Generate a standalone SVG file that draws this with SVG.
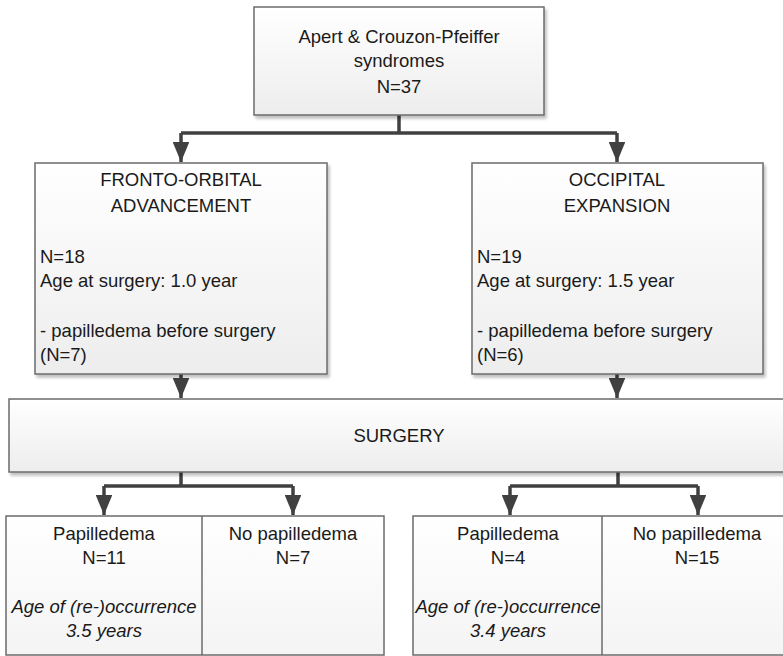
<svg xmlns="http://www.w3.org/2000/svg" width="783" height="656" viewBox="0 0 783 656">
<defs>
<linearGradient id="g" x1="0" y1="0" x2="0" y2="1">
<stop offset="0" stop-color="#ffffff"/>
<stop offset="1" stop-color="#ededed"/>
</linearGradient>
<linearGradient id="g2" x1="0" y1="0" x2="0" y2="1">
<stop offset="0" stop-color="#ffffff"/>
<stop offset="1" stop-color="#f4f4f4"/>
</linearGradient>
<filter id="sh" x="-5%" y="-5%" width="115%" height="120%">
<feGaussianBlur in="SourceAlpha" stdDeviation="1.5"/>
<feOffset dx="2" dy="3" result="b"/>
<feComponentTransfer><feFuncA type="linear" slope="0.25"/></feComponentTransfer>
<feMerge><feMergeNode/><feMergeNode in="SourceGraphic"/></feMerge>
</filter>
<marker id="ah" viewBox="0 0 12 10" refX="12" refY="5" markerWidth="5.8" markerHeight="4.8" markerUnits="strokeWidth" orient="auto">
<path d="M0,0 L12,5 L0,10 z" fill="#404040"/>
</marker>
</defs>
<style>
.box{fill:url(#g);stroke:#6b6b6b;stroke-width:1.5;filter:url(#sh)}
.low{fill:url(#g2);stroke:#6b6b6b;stroke-width:1.5}
.div{stroke:#6b6b6b;stroke-width:1.5}
text{font-family:"Liberation Sans",Arial,sans-serif;font-size:18.5px;fill:#1a1a1a}
.c{text-anchor:middle}
.i{font-style:italic}
.con{fill:none;stroke:#404040;stroke-width:3.5}
</style>
<rect width="783" height="656" fill="#ffffff"/>
<g id="connectors">
<path class="con" d="M399,115 V133 M181,133 H617"/>
<path class="con" d="M181,133 V162" marker-end="url(#ah)"/>
<path class="con" d="M617,133 V162" marker-end="url(#ah)"/>
<path class="con" d="M181,374 V398" marker-end="url(#ah)"/>
<path class="con" d="M617,374 V398" marker-end="url(#ah)"/>
<path class="con" d="M181,472 V486 M104,486 H293"/>
<path class="con" d="M104,486 V515" marker-end="url(#ah)"/>
<path class="con" d="M293,486 V515" marker-end="url(#ah)"/>
<path class="con" d="M618,472 V486 M510,486 H698"/>
<path class="con" d="M510,486 V515" marker-end="url(#ah)"/>
<path class="con" d="M698,486 V515" marker-end="url(#ah)"/>
</g>
<g id="top">
<rect class="box" x="254" y="7" width="290" height="108"/>
<text class="c" x="399" y="43">Apert &amp; Crouzon-Pfeiffer</text>
<text class="c" x="399" y="67">syndromes</text>
<text class="c" x="399" y="93">N=37</text>
</g>
<g id="foa">
<rect class="box" x="35" y="163" width="292" height="211"/>
<text class="c" x="181" y="186">FRONTO-ORBITAL</text>
<text class="c" x="181" y="212">ADVANCEMENT</text>
<text x="40" y="263">N=18</text>
<text x="40" y="287">Age at surgery: 1.0 year</text>
<text x="40" y="337">- papilledema before surgery</text>
<text x="40" y="361">(N=7)</text>
</g>
<g id="oe">
<rect class="box" x="472" y="163" width="291" height="211"/>
<text class="c" x="617" y="186">OCCIPITAL</text>
<text class="c" x="617" y="212">EXPANSION</text>
<text x="477" y="263">N=19</text>
<text x="477" y="287">Age at surgery: 1.5 year</text>
<text x="477" y="337">- papilledema before surgery</text>
<text x="477" y="361">(N=6)</text>
</g>
<g id="surgery">
<rect class="box" x="9" y="399" width="790" height="73"/>
<text class="c" x="399" y="442">SURGERY</text>
</g>
<g id="left-outcome">
<rect class="low" x="6" y="516" width="378" height="139"/>
<line class="div" x1="202" y1="516" x2="202" y2="655"/>
<text class="c" x="104" y="540">Papilledema</text>
<text class="c" x="104" y="564">N=11</text>
<text class="c i" x="104" y="613">Age of (re-)occurrence</text>
<text class="c i" x="104" y="637">3.5 years</text>
<text class="c" x="293" y="540">No papilledema</text>
<text class="c" x="293" y="564">N=7</text>
</g>
<g id="right-outcome">
<rect class="low" x="413" y="516" width="380" height="139"/>
<line class="div" x1="602" y1="516" x2="602" y2="655"/>
<text class="c" x="508" y="540">Papilledema</text>
<text class="c" x="508" y="564">N=4</text>
<text class="c i" x="508" y="613">Age of (re-)occurrence</text>
<text class="c i" x="508" y="637">3.4 years</text>
<text class="c" x="697" y="540">No papilledema</text>
<text class="c" x="697" y="564">N=15</text>
</g>
</svg>
